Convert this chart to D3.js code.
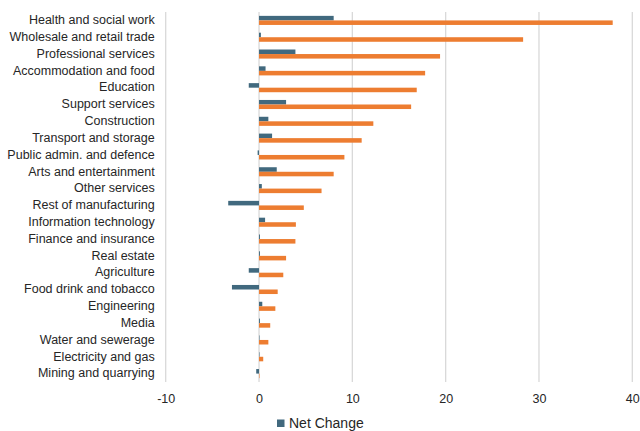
<!DOCTYPE html>
<html>
<head>
<meta charset="utf-8">
<script src="https://cdn.jsdelivr.net/npm/d3@7"></script>
<style>
  html, body { margin: 0; padding: 0; background: #fff; }
  svg { display: block; font-family: "Liberation Sans", Arial, sans-serif; }
</style>
</head>
<body>
<svg id="chart" width="640" height="431"></svg>
<script>
// Sectors, top to bottom
const sectors = [
  "Health and social work", "Wholesale and retail trade", "Professional services",
  "Accommodation and food", "Education", "Support services", "Construction",
  "Transport and storage", "Public admin. and defence", "Arts and entertainment",
  "Other services", "Rest of manufacturing", "Information technology",
  "Finance and insurance", "Real estate", "Agriculture", "Food drink and tobacco",
  "Engineering", "Media", "Water and sewerage", "Electricity and gas",
  "Mining and quarrying"
];
// Net change per sector
const netChange = [8.0, 0.2, 3.9, 0.7, -1.1, 2.9, 1.0, 1.4, -0.15, 1.9, 0.3, -3.3,
  0.65, 0.1, 0.1, -1.1, -2.9, 0.35, 0.1, 0.05, 0.05, -0.3];
// Second series (orange)
const growth = [37.9, 28.3, 19.4, 17.8, 16.9, 16.3, 12.25, 11.0, 9.15, 8.0, 6.7, 4.8,
  3.95, 3.9, 2.9, 2.6, 2.0, 1.75, 1.2, 1.0, 0.45, 0.05];
const xTicks = [-10, 0, 10, 20, 30, 40];

const seriesKeys = ["net", "growth"];
const colors = { net: "#41697e", growth: "#ed7d31" };
const rows = sectors.map((s, i) => ({ sector: s, net: netChange[i], growth: growth[i] }));

const svg = d3.select("#chart");
const margin = { top: 12, right: 8, bottom: 49, left: 165.7 };
const width = 640, height = 431;

const x = d3.scaleLinear().domain([-10, 40]).range([margin.left, 632.3]);
const y = d3.scaleBand().domain(sectors).range([margin.top, height - margin.bottom]).paddingInner(0.46).paddingOuter(0.23);
const ySub = d3.scaleBand().domain(seriesKeys).range([0, y.bandwidth()]);

// Vertical gridlines
svg.append("g")
  .selectAll("line")
  .data(xTicks)
  .join("line")
  .attr("x1", d => x(d)).attr("x2", d => x(d))
  .attr("y1", margin.top).attr("y2", height - margin.bottom)
  .attr("stroke", "#d9d9d9").attr("stroke-width", 1.3);

// Bars
const groups = svg.append("g")
  .selectAll("g")
  .data(rows)
  .join("g")
  .attr("transform", d => `translate(0,${y(d.sector)})`);

groups.selectAll("rect")
  .data(d => seriesKeys.map(k => ({ key: k, value: d[k] })))
  .join("rect")
  .attr("x", d => x(Math.min(0, d.value)))
  .attr("width", d => Math.abs(x(d.value) - x(0)))
  .attr("y", d => ySub(d.key))
  .attr("height", ySub.bandwidth())
  .attr("fill", d => colors[d.key]);

// Category labels
const yAxis = svg.append("g")
  .attr("transform", `translate(${margin.left},0)`)
  .call(d3.axisLeft(y).tickSize(0).tickPadding(11));
yAxis.select(".domain").remove();
yAxis.selectAll("text").attr("font-size", 12.5).attr("fill", "#262626")
  .attr("dy", "0.3em")
  .attr("font-family", "Liberation Sans, Arial, sans-serif");

// Value axis labels
const xAxis = svg.append("g")
  .attr("transform", `translate(0,${height - margin.bottom})`)
  .call(d3.axisBottom(x).tickValues(xTicks).tickSize(0).tickPadding(12).tickFormat(d => String(d)));
xAxis.select(".domain").remove();
xAxis.selectAll("text").attr("font-size", 12.5).attr("fill", "#262626")
  .attr("font-family", "Liberation Sans, Arial, sans-serif");

// Legend
const legend = svg.append("g").attr("transform", "translate(277,419.5)");
legend.append("rect").attr("width", 7.5).attr("height", 7.5).attr("fill", colors.net);
legend.append("text").attr("x", 12).attr("y", 8.8)
  .attr("font-size", 14).attr("fill", "#262626").text("Net Change");
</script>
</body>
</html>
